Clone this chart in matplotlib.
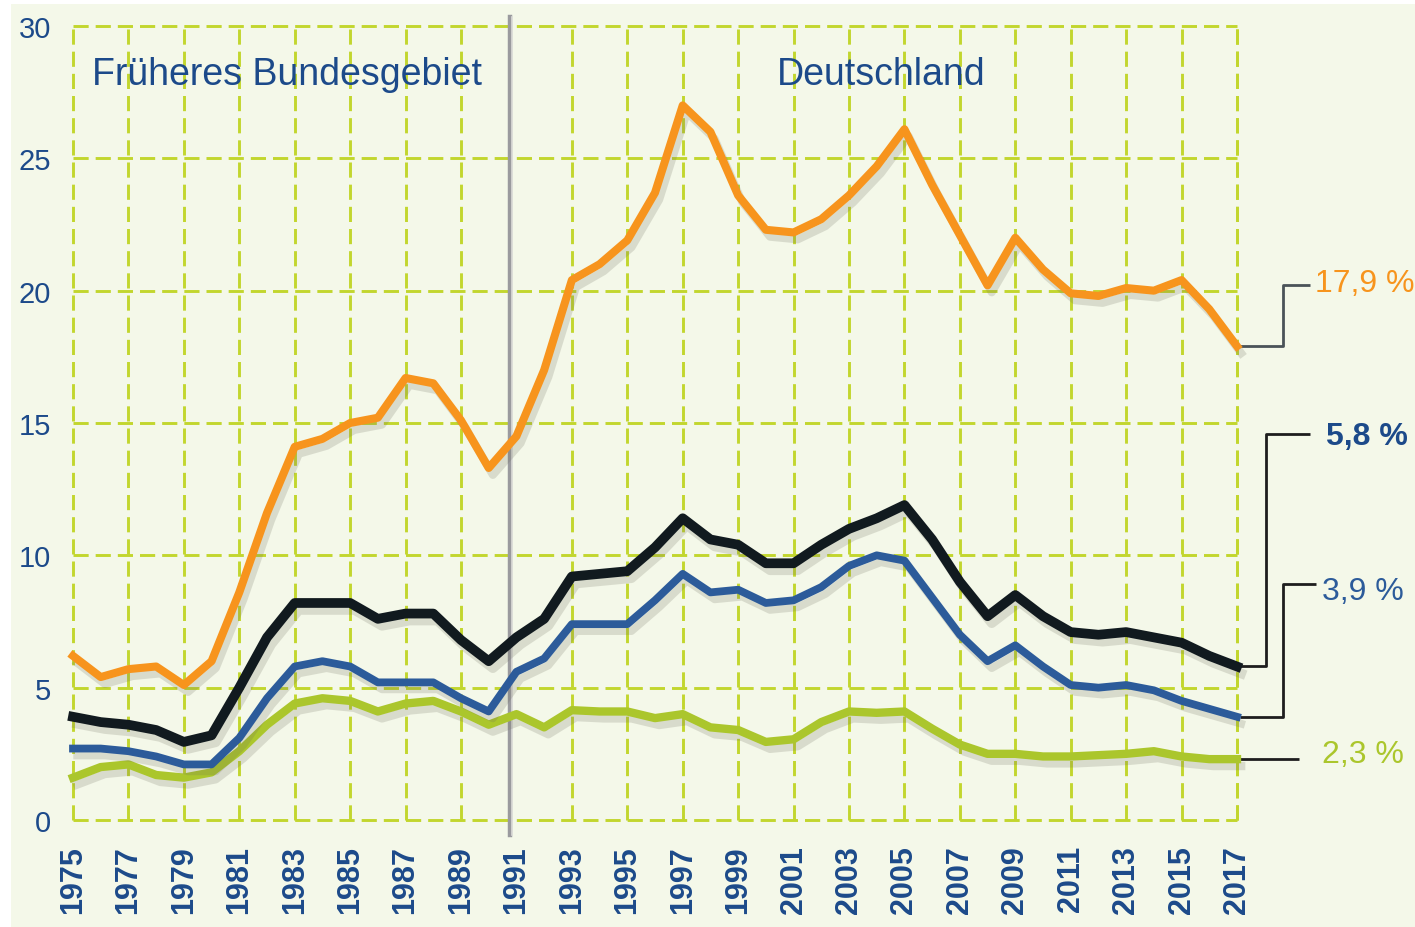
import matplotlib
matplotlib.use("Agg")
import matplotlib.pyplot as plt
import matplotlib.patheffects as pe
from matplotlib.patches import Rectangle

# data (Arbeitslosenquoten in %)
years = list(range(1975, 2018))
ohne_abschluss = [6.2, 5.4, 5.7, 5.8, 5.1, 6.0, 8.6, 11.6, 14.1, 14.4, 15.0, 15.2, 16.7, 16.5, 15.1, 13.3,
                  14.5, 17.0, 20.4, 21.0, 21.9, 23.7, 27.0, 26.0, 23.6, 22.3, 22.2, 22.7, 23.6, 24.7, 26.1,
                  24.0, 22.1, 20.2, 22.0, 20.8, 19.9, 19.8, 20.1, 20.0, 20.4, 19.3, 17.9]
insgesamt = [3.9, 3.7, 3.6, 3.4, 2.95, 3.2, 5.0, 6.9, 8.2, 8.2, 8.2, 7.6, 7.8, 7.8, 6.8, 6.0,
             6.9, 7.6, 9.2, 9.3, 9.4, 10.3, 11.4, 10.6, 10.4, 9.7, 9.7, 10.4, 11.0, 11.4, 11.9,
             10.6, 9.0, 7.7, 8.5, 7.7, 7.1, 7.0, 7.1, 6.9, 6.7, 6.2, 5.8]
berufsabschluss = [2.7, 2.7, 2.6, 2.4, 2.1, 2.1, 3.1, 4.6, 5.8, 6.0, 5.8, 5.2, 5.2, 5.2, 4.6, 4.1,
                   5.6, 6.1, 7.4, 7.4, 7.4, 8.3, 9.3, 8.6, 8.7, 8.2, 8.3, 8.8, 9.6, 10.0, 9.8,
                   8.4, 7.0, 6.0, 6.6, 5.8, 5.1, 5.0, 5.1, 4.9, 4.5, 4.2, 3.9]
akademiker = [1.6, 2.0, 2.1, 1.7, 1.6, 1.8, 2.6, 3.6, 4.4, 4.6, 4.5, 4.1, 4.4, 4.5, 4.1, 3.6,
              4.0, 3.5, 4.15, 4.1, 4.1, 3.85, 4.0, 3.5, 3.4, 2.95, 3.05, 3.7, 4.1, 4.05, 4.1,
              3.45, 2.85, 2.5, 2.5, 2.4, 2.4, 2.45, 2.5, 2.6, 2.4, 2.3, 2.3]
end_labels = ["17,9 %", "5,8 %", "3,9 %", "2,3 %"]
y_ticks = [0, 5, 10, 15, 20, 25, 30]
x_ticks = list(range(1975, 2018, 2))

bg = "#f4f8e9"
grid_col = "#c2d62e"
dark_blue = "#1c4a8a"
orange = "#f7941d"
black = "#111a1f"
blue = "#2c5b9a"
green = "#abc62c"

fig = plt.figure(figsize=(14.15, 9.28), dpi=100, facecolor="white")
fig.patches.append(Rectangle((11 / 1415, 0), 1, 1 - 5 / 928, transform=fig.transFigure,
                             facecolor=bg, edgecolor="none", zorder=-10))
ax = fig.add_axes([73 / 1415, 107 / 928, 1164 / 1415, 794 / 928])
ax.set_facecolor(bg)
ax.patch.set_alpha(0)
ax.set_xlim(1975, 2017)
ax.set_ylim(0, 30)
for s in ax.spines.values():
    s.set_visible(False)

# dashed grid incl. frame
dash = (0, (5.2, 2.4))
for y in y_ticks:
    ax.plot([1975, 2017], [y, y], color=grid_col, lw=2.1, ls=dash, clip_on=False, zorder=1)
for x in x_ticks + [2017]:
    if x == 1991:
        continue
    ax.plot([x, x], [0, 30], color=grid_col, lw=2.1, ls=dash, clip_on=False, zorder=1)

# divider between Früheres Bundesgebiet / Deutschland
ax.plot([1990.77, 1990.77], [-0.55, 30.35], color="#9a9a9e", lw=3.2, clip_on=False, zorder=2)
ax.plot([1990.85, 1990.85], [-0.55, 30.35], color="#dcdcd8", lw=1.2, clip_on=False, zorder=2)

shadow = [pe.SimpleLineShadow(offset=(3, -5), shadow_color="#6b6b5a", alpha=0.2, rho=1.0), pe.Normal()]
ax.plot(years, akademiker, color=green, lw=6.0, solid_joinstyle="round", path_effects=shadow, zorder=4, clip_on=False)
ax.plot(years, berufsabschluss, color=blue, lw=5.6, solid_joinstyle="round", path_effects=shadow, zorder=5, clip_on=False)
ax.plot(years, insgesamt, color=black, lw=7.0, solid_joinstyle="round", path_effects=shadow, zorder=6, clip_on=False)
ax.plot(years, ohne_abschluss, color=orange, lw=5.8, solid_joinstyle="round", path_effects=shadow, zorder=6, clip_on=False)

# leader lines to end labels
lk = dict(lw=2.0, clip_on=False, zorder=3, solid_capstyle="butt")
ax.plot([2017.1, 2018.67, 2018.67, 2019.64], [ohne_abschluss[-1], ohne_abschluss[-1], 20.2, 20.2], color="#4a5358", **lk)
ax.plot([2017.1, 2018.05, 2018.05, 2019.64], [insgesamt[-1], insgesamt[-1], 14.6, 14.6], color="#1e1e1e", **lk)
ax.plot([2017.1, 2018.67, 2018.67, 2019.86], [berufsabschluss[-1], berufsabschluss[-1], 8.92, 8.92], color="#1e1e1e", **lk)
ax.plot([2017.1, 2019.24], [akademiker[-1], akademiker[-1]], color="#1e1e1e", **lk)

lab = dict(fontsize=23, family=["Liberation Sans", "DejaVu Sans"], va="center", ha="left", clip_on=False)
ax.text(2019.82, 20.3, end_labels[0], color=orange, **lab)
ax.text(2020.2, 14.5, end_labels[1], color=dark_blue, fontweight="bold", **lab)
ax.text(2020.07, 8.65, end_labels[2], color=blue, **lab)
ax.text(2020.07, 2.5, end_labels[3], color=green, **lab)

# region titles
tk = dict(fontsize=27, family=["Liberation Sans", "DejaVu Sans"], color=dark_blue, ha="center", va="center")
ax.text(1982.72, 28.2, "Früheres Bundesgebiet", **tk)
ax.text(2004.16, 28.2, "Deutschland", **tk)

ax.set_yticks(y_ticks)
ax.set_yticklabels([str(v) for v in y_ticks], fontsize=21, color=dark_blue, family=["Liberation Sans", "DejaVu Sans"])
ax.set_xticks(x_ticks)
ax.set_xticklabels([str(v) for v in x_ticks], rotation=90, fontsize=22, fontweight="bold",
                   color=dark_blue, family=["Liberation Sans Narrow", "Liberation Sans", "DejaVu Sans"])
ax.tick_params(axis="y", length=0, pad=16)
ax.tick_params(axis="x", length=0, pad=18)

fig.savefig("out.png", dpi=100, facecolor=fig.get_facecolor())
